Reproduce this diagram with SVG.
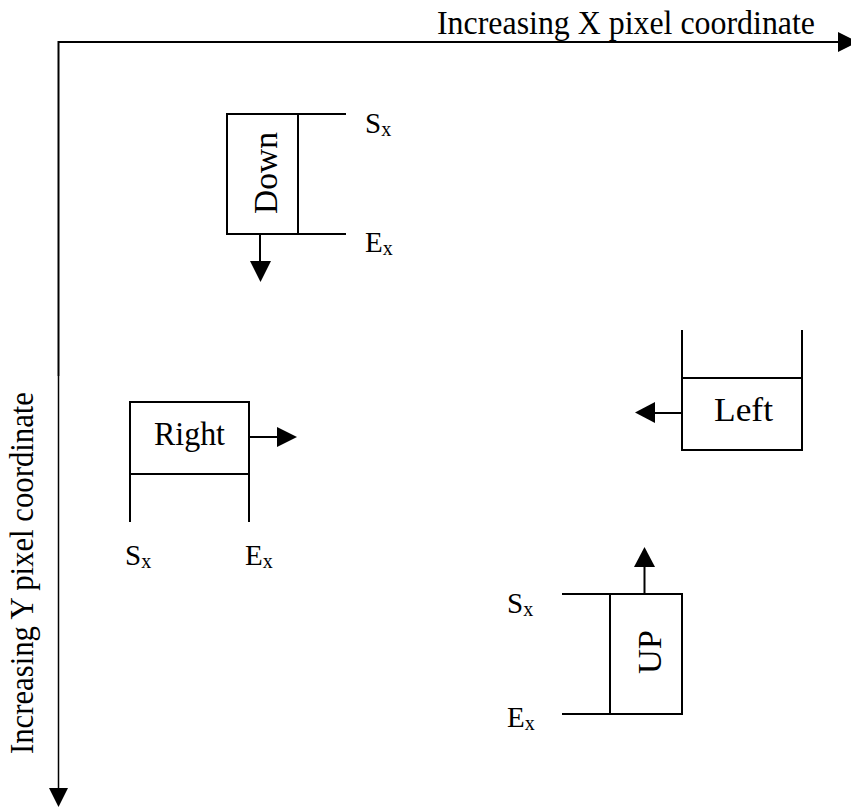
<svg xmlns="http://www.w3.org/2000/svg" width="851" height="810" viewBox="0 0 851 810">
<style>
.ln{stroke:#000;stroke-width:2;fill:none}
.thin{stroke:#000;stroke-width:1.5;fill:none}
.box{stroke:#000;stroke-width:2;fill:#fff}
.hd{fill:#000;stroke:none}
text{font-family:"Liberation Serif","Times New Roman",serif;fill:#000}
.lbl{font-size:34px}
.ax{font-size:33px}
.sx{font-size:29px}
.sub{font-size:20px}
</style>
<rect width="851" height="810" fill="#fff"/>
<g id="axes">
<path class="ln" d="M58.5,376 V42 H840"/>
<path class="thin" d="M58.5,376 V790"/>
<polygon class="hd" points="838,32 838,52 858,42"/>
<polygon class="hd" points="49,788 68,788 58.5,807"/>
<text class="ax" x="437" y="34" textLength="378" lengthAdjust="spacingAndGlyphs">Increasing X pixel coordinate</text>
<text class="ax" x="33" y="573" text-anchor="middle" transform="rotate(-90 33 573)" textLength="362" lengthAdjust="spacingAndGlyphs">Increasing Y pixel coordinate</text>
</g>
<g id="down">
<rect class="box" x="227" y="114" width="71" height="120"/>
<path class="ln" d="M298,114 H346 M298,234 H346"/>
<text class="lbl" x="277" y="173" text-anchor="middle" transform="rotate(-90 277 173)" textLength="82" lengthAdjust="spacingAndGlyphs">Down</text>
<text class="sx" x="365" y="133">S<tspan class="sub" dy="3">x</tspan></text>
<text class="sx" x="365" y="252">E<tspan class="sub" dy="3">x</tspan></text>
</g>
<g id="right">
<rect class="box" x="130" y="402" width="119" height="72"/>
<path class="ln" d="M130,474 V522 M249,474 V522"/>
<text class="lbl" x="154" y="445" textLength="71" lengthAdjust="spacingAndGlyphs">Right</text>
<text class="sx" x="125" y="565">S<tspan class="sub" dy="3">x</tspan></text>
<text class="sx" x="245" y="565">E<tspan class="sub" dy="3">x</tspan></text>
</g>
<g id="left">
<rect class="box" x="682" y="378" width="120" height="72"/>
<path class="ln" d="M682,378 V330 M802,378 V330"/>
<text class="lbl" x="714" y="421" textLength="59" lengthAdjust="spacingAndGlyphs">Left</text>
</g>
<g id="up">
<rect class="box" x="610" y="594" width="72" height="120"/>
<path class="ln" d="M562,594 H610 M562,714 H610"/>
<text class="lbl" x="661" y="652" text-anchor="middle" transform="rotate(-90 661 652)" textLength="44" lengthAdjust="spacingAndGlyphs">UP</text>
<text class="sx" x="507" y="613">S<tspan class="sub" dy="3">x</tspan></text>
<text class="sx" x="507" y="727">E<tspan class="sub" dy="3">x</tspan></text>
</g>
<g id="connectors">
<path class="ln" d="M260,234 V262"/>
<polygon class="hd" points="250,261 271,261 260.5,282"/>
<path class="ln" d="M249,437 H278"/>
<polygon class="hd" points="277,427 277,447 297,437"/>
<path class="ln" d="M682,413 H654"/>
<polygon class="hd" points="655,402 655,423 635,412.5"/>
<path class="ln" d="M644.5,594 V566"/>
<polygon class="hd" points="634,567 655,567 644.5,547"/>
</g>
</svg>
